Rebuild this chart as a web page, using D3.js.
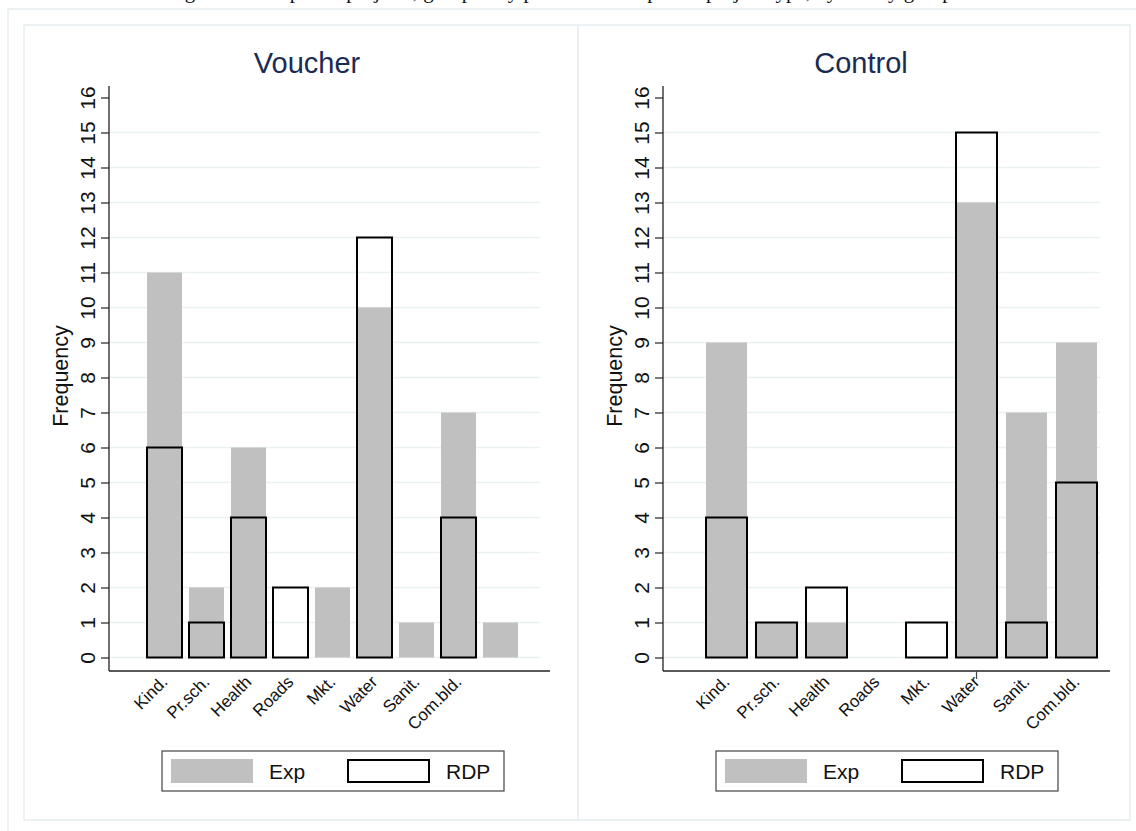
<!DOCTYPE html>
<html>
<head>
<meta charset="utf-8">
<script src="https://cdn.jsdelivr.net/npm/d3@7"></script>
<style>
  html, body { margin: 0; padding: 0; background: #ffffff; }
  svg { display: block; }
  text { font-family: "Liberation Sans", Arial, sans-serif; }
</style>
</head>
<body>
<svg id="chart" width="1136" height="831"></svg>
<script>
// ---- Data ----
const captionText = "Figure 3: Completed projects, grouped by planned and reported project type, by survey group";
const panelTitles = ["Voucher", "Control"];
const seriesNames = ["Exp", "RDP"];

const voucherCategories = ["Kind.", "Pr.sch.", "Health", "Roads", "Mkt.", "Water", "Sanit.", "Com.bld.", ""];
const voucherExp = [11, 2, 6, 0, 2, 10, 1, 7, 1];
const voucherRDP = [6, 1, 4, 2, 0, 12, 0, 4, 0];

const controlCategories = ["Kind.", "Pr.sch.", "Health", "Roads", "Mkt.", "Water", "Sanit.", "Com.bld."];
const controlExp = [9, 1, 1, 0, 0, 13, 7, 9];
const controlRDP = [4, 1, 2, 0, 1, 15, 1, 5];

const yTickValues = [0, 1, 2, 3, 4, 5, 6, 7, 8, 9, 10, 11, 12, 13, 14, 15, 16];
const gridValues = [0, 1, 2, 3, 4, 5, 6, 7, 8, 9, 10, 11, 12, 13, 14, 15];

// ---- Styles / layout ----
const GRAY = "#c0c0c0";
const FRAME = "#e6eef0";
const GRID = "#e9f1f2";
const TITLE_COLOR = "#1c2b52";

const svg = d3.select("#chart");

// cut-off caption at very top (only descenders visible, as in the reference)
svg.append("text")
  .attr("x", 560).attr("y", -2)
  .attr("text-anchor", "middle")
  .style("font-family", "'Liberation Serif', 'DejaVu Serif', serif")
  .style("font-size", "21px")
  .attr("fill", "#111")
  .text(captionText);

// outer frame
svg.append("rect")
  .attr("x", 8).attr("y", 9).attr("width", 1140).attr("height", 840)
  .attr("fill", "none").attr("stroke", FRAME).attr("stroke-width", 1.5);

const panels = [
  { title: panelTitles[0], cats: voucherCategories, exp: voucherExp, rdp: voucherRDP,
    px: 24, pw: 554, axisX: 109, plotRight: 550, bandRange: [143.5, 521.5], padInner: 1/6, extraTick: null },
  { title: panelTitles[1], cats: controlCategories, exp: controlExp, rdp: controlRDP,
    px: 578, pw: 552, axisX: 663, plotRight: 1110, bandRange: [701.5, 1101.5], padInner: 0.18, extraTick: 5 }
];

const y = d3.scaleLinear().domain([0, 16]).range([657.5, 97.5]);
const axisTop = 86, axisBottom = 671;

panels.forEach(p => {
  const g = svg.append("g");
  // panel frame
  g.append("rect")
    .attr("x", p.px).attr("y", 25).attr("width", p.pw).attr("height", 795)
    .attr("fill", "#ffffff").attr("stroke", FRAME).attr("stroke-width", 1.5);

  // title
  g.append("text")
    .attr("x", p.px + 283).attr("y", 73)
    .attr("text-anchor", "middle")
    .attr("fill", TITLE_COLOR)
    .style("font-size", "29px")
    .text(p.title);

  // gridlines
  g.append("g").selectAll("line")
    .data(gridValues)
    .join("line")
    .attr("x1", p.axisX).attr("x2", p.plotRight - 10)
    .attr("y1", d => y(d)).attr("y2", d => y(d))
    .attr("stroke", GRID).attr("stroke-width", 1.5);

  const x = d3.scaleBand()
    .domain(d3.range(p.cats.length))
    .range(p.bandRange)
    .paddingInner(p.padInner)
    .paddingOuter(p.padInner / 2);

  // Exp bars (gray)
  g.append("g").selectAll("rect")
    .data(p.exp.map((v, i) => ({ v, i })).filter(d => d.v > 0))
    .join("rect")
    .attr("x", d => x(d.i))
    .attr("width", x.bandwidth())
    .attr("y", d => y(d.v))
    .attr("height", d => y(0) - y(d.v))
    .attr("fill", GRAY);

  // RDP bars (outline)
  g.append("g").selectAll("rect")
    .data(p.rdp.map((v, i) => ({ v, i })).filter(d => d.v > 0))
    .join("rect")
    .attr("x", d => x(d.i))
    .attr("width", x.bandwidth())
    .attr("y", d => y(d.v))
    .attr("height", d => y(0) - y(d.v))
    .attr("fill", "none")
    .attr("stroke", "#000")
    .attr("stroke-width", 2);

  // y axis
  const yAxis = d3.axisLeft(y).tickValues(yTickValues).tickSize(8).tickPadding(0).tickFormat(d3.format("d"));
  const ya = g.append("g").attr("transform", `translate(${p.axisX},0)`).call(yAxis);
  ya.select(".domain").remove();
  ya.selectAll(".tick line").attr("stroke", "#222").attr("stroke-width", 1.2);
  ya.selectAll(".tick text")
    .attr("x", 0).attr("dy", null)
    .attr("transform", "translate(-14,0) rotate(-90)")
    .attr("text-anchor", "middle")
    .attr("fill", "#111")
    .style("font-size", "21px");
  g.append("line")
    .attr("x1", p.axisX).attr("x2", p.axisX)
    .attr("y1", axisTop).attr("y2", axisBottom)
    .attr("stroke", "#222").attr("stroke-width", 1.3);

  // x axis line
  g.append("line")
    .attr("x1", p.axisX).attr("x2", p.plotRight)
    .attr("y1", axisBottom).attr("y2", axisBottom)
    .attr("stroke", "#222").attr("stroke-width", 1.3);

  if (p.extraTick !== null) {
    const cx = x(p.extraTick) + x.bandwidth() / 2;
    g.append("line")
      .attr("x1", cx).attr("x2", cx)
      .attr("y1", axisBottom).attr("y2", axisBottom + 8)
      .attr("stroke", "#444").attr("stroke-width", 1.2);
  }

  // category labels
  g.append("g").selectAll("text")
    .data(p.cats.map((c, i) => ({ c, i })))
    .join("text")
    .attr("transform", d => `translate(${x(d.i) + x.bandwidth() / 2 + 4},${axisBottom + 12}) rotate(-45)`)
    .attr("text-anchor", "end")
    .attr("fill", "#111")
    .style("font-size", "17px")
    .text(d => d.c);

  // y label
  g.append("text")
    .attr("transform", `translate(${p.axisX - 41},${376}) rotate(-90)`)
    .attr("text-anchor", "middle")
    .attr("fill", "#111")
    .style("font-size", "21.5px")
    .text("Frequency");

  // legend
  const lx = p.px + 138, ly = 751;
  const lg = g.append("g");
  lg.append("rect")
    .attr("x", lx).attr("y", ly).attr("width", 342).attr("height", 40)
    .attr("fill", "#fff").attr("stroke", "#444").attr("stroke-width", 1.2);
  lg.append("rect")
    .attr("x", lx + 9).attr("y", ly + 8).attr("width", 82).attr("height", 24)
    .attr("fill", GRAY);
  lg.append("text")
    .attr("x", lx + 107).attr("y", ly + 28)
    .attr("fill", "#111").style("font-size", "21px")
    .text(seriesNames[0]);
  lg.append("rect")
    .attr("x", lx + 186).attr("y", ly + 9).attr("width", 81).attr("height", 22)
    .attr("fill", "none").attr("stroke", "#000").attr("stroke-width", 2);
  lg.append("text")
    .attr("x", lx + 284).attr("y", ly + 28)
    .attr("fill", "#111").style("font-size", "21px")
    .text(seriesNames[1]);
});
</script>
</body>
</html>
